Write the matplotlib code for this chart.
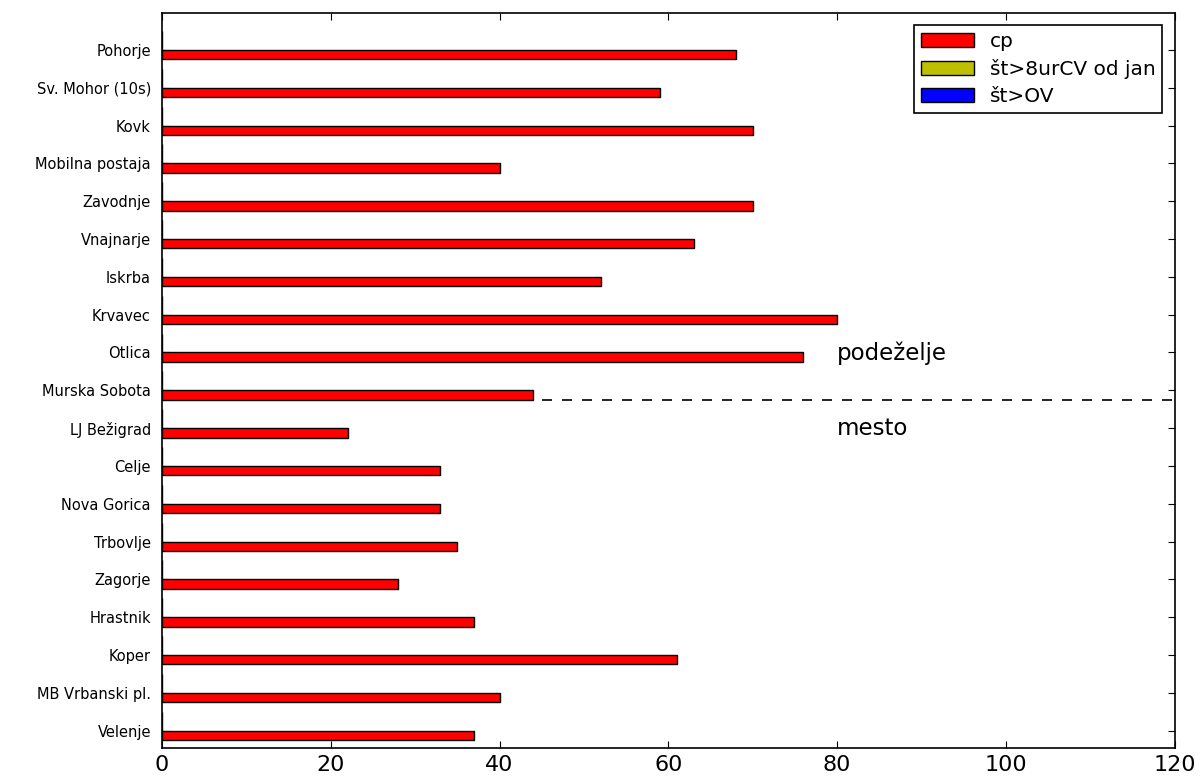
import numpy as np
import matplotlib
matplotlib.use('Agg')
import matplotlib.pyplot as plt

postaje = ['Velenje', 'MB Vrbanski pl.', 'Koper', 'Hrastnik', 'Zagorje', 'Trbovlje',
           'Nova Gorica', 'Celje', 'LJ Bežigrad', 'Murska Sobota', 'Otlica', 'Krvavec',
           'Iskrba', 'Vnajnarje', 'Zavodnje', 'Mobilna postaja', 'Kovk',
           'Sv. Mohor (10s)', 'Pohorje']
cp = [37, 40, 61, 37, 28, 35, 33, 33, 22, 44, 76, 80, 52, 63, 70, 40, 70, 59, 68]
st_8ur = [0] * 19
st_ov = [0] * 19
xticks = [0, 20, 40, 60, 80, 100, 120]

ind = np.arange(len(postaje))
w = 0.25

fig = plt.figure(figsize=(12.01, 7.76), dpi=100)
ax = fig.add_axes([0.1349, 0.036, 0.8431, 0.947])
ax.set_axisbelow(True)

ax.axhline(9, color='k', ls='--', lw=1.2, dashes=(6, 6), zorder=1)
ax.barh(ind, cp, w, align='edge', color='r', edgecolor='k', lw=1, label='cp', zorder=2)
ax.barh(ind + w, st_8ur, w, align='edge', color='y', edgecolor='k', lw=1,
        label='št>8urCV od jan', zorder=2)
ax.barh(ind + 2 * w, st_ov, w, align='edge', color='b', edgecolor='k', lw=1,
        label='št>OV', zorder=2)

ax.text(80, 10.23, 'podeželje', fontsize=16.5, va='center', ha='left')
ax.text(80, 8.25, 'mesto', fontsize=16.5, va='center', ha='left')

ax.set_xlim(0, 120)
ax.set_ylim(-0.21, 19.22)
ax.set_xticks(xticks)
ax.set_xticklabels([str(x) for x in xticks], fontsize=16)
ax.set_yticks(ind + w)
ax.set_yticklabels(postaje, fontsize=10.5)
ax.tick_params(direction='in', top=True, right=True, length=5, width=0.8)
ax.tick_params(axis='x', pad=5)
ax.tick_params(axis='y', pad=8)
for s in ax.spines.values():
    s.set_linewidth(1.2)

leg = ax.legend(loc='upper right', fontsize=14.5, fancybox=False, framealpha=1,
                edgecolor='k', borderaxespad=0.6, handlelength=2.6, labelspacing=0.4,
                borderpad=0.35)
leg.get_frame().set_linewidth(1.2)

fig.savefig('out.png', dpi=100)
